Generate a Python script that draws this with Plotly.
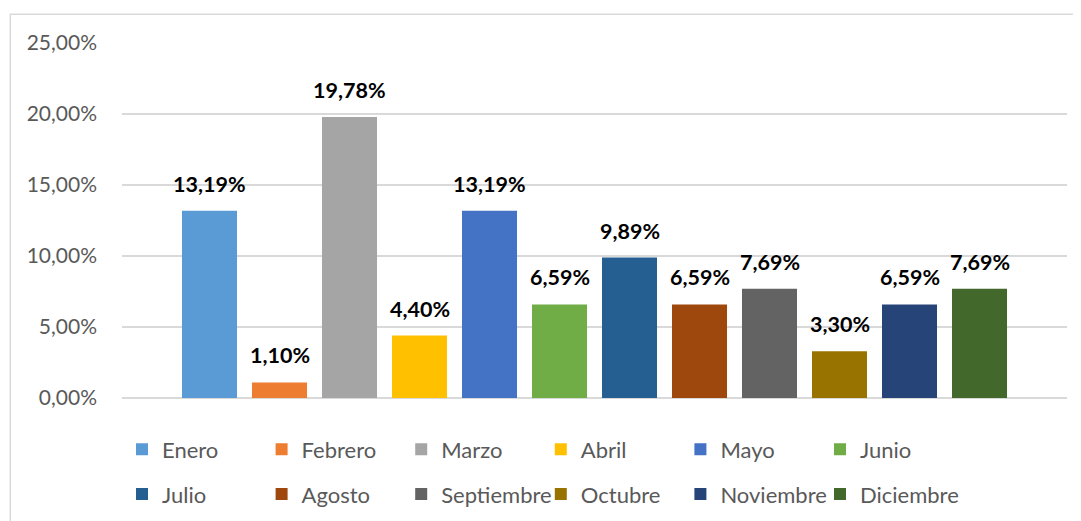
import plotly.graph_objects as go

months = ["Enero", "Febrero", "Marzo", "Abril", "Mayo", "Junio",
          "Julio", "Agosto", "Septiembre", "Octubre", "Noviembre", "Diciembre"]
values = [13.19, 1.10, 19.78, 4.40, 13.19, 6.59, 9.89, 6.59, 7.69, 3.30, 6.59, 7.69]
colors = ["#5B9BD5", "#ED7D31", "#A5A5A5", "#FFC000", "#4472C4", "#70AD47",
          "#255E91", "#9E480E", "#636363", "#997300", "#264478", "#43682B"]
y_ticks = [0, 5, 10, 15, 20, 25]
y_tick_text = [f"{t:.2f}%".replace(".", ",") for t in y_ticks]

FONT = "Lato"
fig = go.Figure()
for i, (m, v, c) in enumerate(zip(months, values, colors)):
    fig.add_trace(go.Bar(
        x=[m], y=[v], name=m, marker_color=c, marker_line_width=0,
        width=0.786, legend="legend" if i < 6 else "legend2",
    ))
    fig.add_annotation(
        x=m, y=v, text=f"<b>{v:.2f}%</b>".replace(".", ","), showarrow=False,
        yanchor="bottom", yshift=12, font=dict(family=FONT, size=21.5, color="#000000"),
    )

legend_common = dict(orientation="h", x=0.0, xanchor="left", yanchor="middle",
                     entrywidth=94.6, entrywidthmode="pixels", itemwidth=30,
                     font=dict(family=FONT, size=22, color="#595959"),
                     bgcolor="rgba(0,0,0,0)")

# page body has an 8px margin, so the figure is sized/offset to compensate
fig.update_layout(
    template="none",
    width=1073, height=513,
    margin=dict(l=113.7, r=14.3, t=34.7, b=122.5, pad=0, autoexpand=False),
    paper_bgcolor="white", plot_bgcolor="white",
    barmode="overlay",
    font=dict(family=FONT, size=21, color="#595959"),
    xaxis=dict(type="category", categoryorder="array", categoryarray=months,
               range=[-1.25, 12.25], showticklabels=False, showgrid=False,
               zeroline=False, showline=False, fixedrange=True, automargin=False),
    yaxis=dict(range=[0, 25], tickvals=y_ticks, ticktext=y_tick_text,
               showgrid=True, gridcolor="#D9D9D9", gridwidth=1.5,
               zeroline=True, zerolinecolor="#D9D9D9", zerolinewidth=1.5,
               showline=False, ticks="", ticklabelstandoff=24, automargin=False,
               tickfont=dict(family=FONT, size=21, color="#595959")),
    legend=dict(legend_common, y=-0.145),
    legend2=dict(legend_common, y=-0.271),
    shapes=[dict(type="rect", xref="paper", yref="paper",
                 x0=-0.1182, x1=1.05, y0=-0.5, y1=1.0807,
                 line=dict(color="#D9D9D9", width=1.5), fillcolor="rgba(0,0,0,0)",
                 layer="below")],
)

fig.write_html("out.html")
